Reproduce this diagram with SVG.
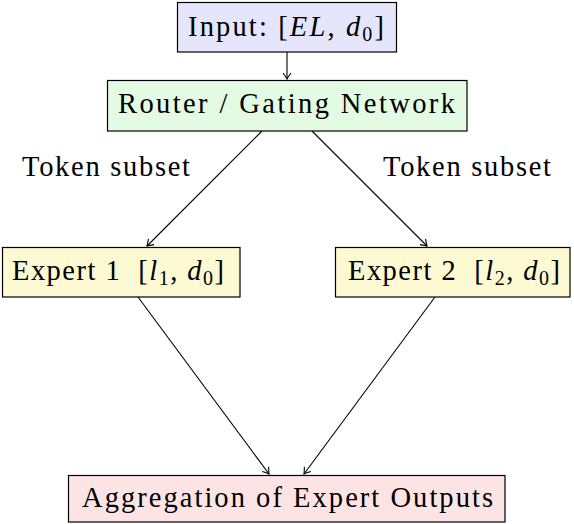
<svg xmlns="http://www.w3.org/2000/svg" width="574" height="524" viewBox="0 0 574 524">
<style>
.box{stroke:#000;stroke-width:1.2}
.t{font-family:"Liberation Serif","DejaVu Serif",serif;font-size:28.5px;fill:#000}
.m{font-style:italic}
.c{stroke:#000;stroke-width:1.1;fill:none;marker-end:url(#ah)}
</style>
<defs>
<marker id="ah" viewBox="-8 -5 10 10" refX="0" refY="0" markerWidth="10" markerHeight="10" markerUnits="userSpaceOnUse" orient="auto">
<path d="M-6,-4 Q-2,-1 0,0 Q-2,1 -6,4" fill="none" stroke="#000" stroke-width="1.1"/>
</marker>
</defs>
<g id="connectors">
<line class="c" x1="287" y1="52" x2="287" y2="79"/>
<line class="c" x1="262" y1="131" x2="147" y2="246"/>
<line class="c" x1="312" y1="131" x2="427" y2="246"/>
<line class="c" x1="138" y1="297" x2="269" y2="474"/>
<line class="c" x1="435" y1="297" x2="304" y2="474"/>
</g>
<g id="input">
<rect class="box" x="177.5" y="2.5" width="219" height="49.5" fill="#e5e5fb"/>
<text class="t" x="188" y="36" textLength="196" lengthAdjust="spacing">Input: [<tspan class="m">EL</tspan>, <tspan class="m">d</tspan><tspan font-size="20" dy="5">0</tspan><tspan dy="-5">]</tspan></text>
</g>
<g id="router">
<rect class="box" x="107.5" y="80.5" width="359.5" height="50.5" fill="#e3fae3"/>
<text class="t" x="118" y="113" textLength="337" lengthAdjust="spacing">Router / Gating Network</text>
</g>
<g id="label-left">
<text class="t" x="22" y="176" textLength="168" lengthAdjust="spacing">Token subset</text>
</g>
<g id="label-right">
<text class="t" x="383" y="176" textLength="168" lengthAdjust="spacing">Token subset</text>
</g>
<g id="expert1">
<rect class="box" x="2.5" y="247.5" width="237.5" height="49.5" fill="#fdf9d3"/>
<text class="t" x="12" y="280" textLength="212" lengthAdjust="spacing">Expert 1&#160; [<tspan class="m">l</tspan><tspan font-size="20" dy="5">1</tspan><tspan dy="-5">, </tspan><tspan class="m">d</tspan><tspan font-size="20" dy="5">0</tspan><tspan dy="-5">]</tspan></text>
</g>
<g id="expert2">
<rect class="box" x="335.5" y="247.5" width="234.5" height="49.5" fill="#fdf9d3"/>
<text class="t" x="348" y="280" textLength="212" lengthAdjust="spacing">Expert 2&#160; [<tspan class="m">l</tspan><tspan font-size="20" dy="5">2</tspan><tspan dy="-5">, </tspan><tspan class="m">d</tspan><tspan font-size="20" dy="5">0</tspan><tspan dy="-5">]</tspan></text>
</g>
<g id="aggregation">
<rect class="box" x="68.5" y="475.5" width="436.5" height="46.5" fill="#fde4e4"/>
<text class="t" x="82" y="507" textLength="411" lengthAdjust="spacing">Aggregation of Expert Outputs</text>
</g>
</svg>
